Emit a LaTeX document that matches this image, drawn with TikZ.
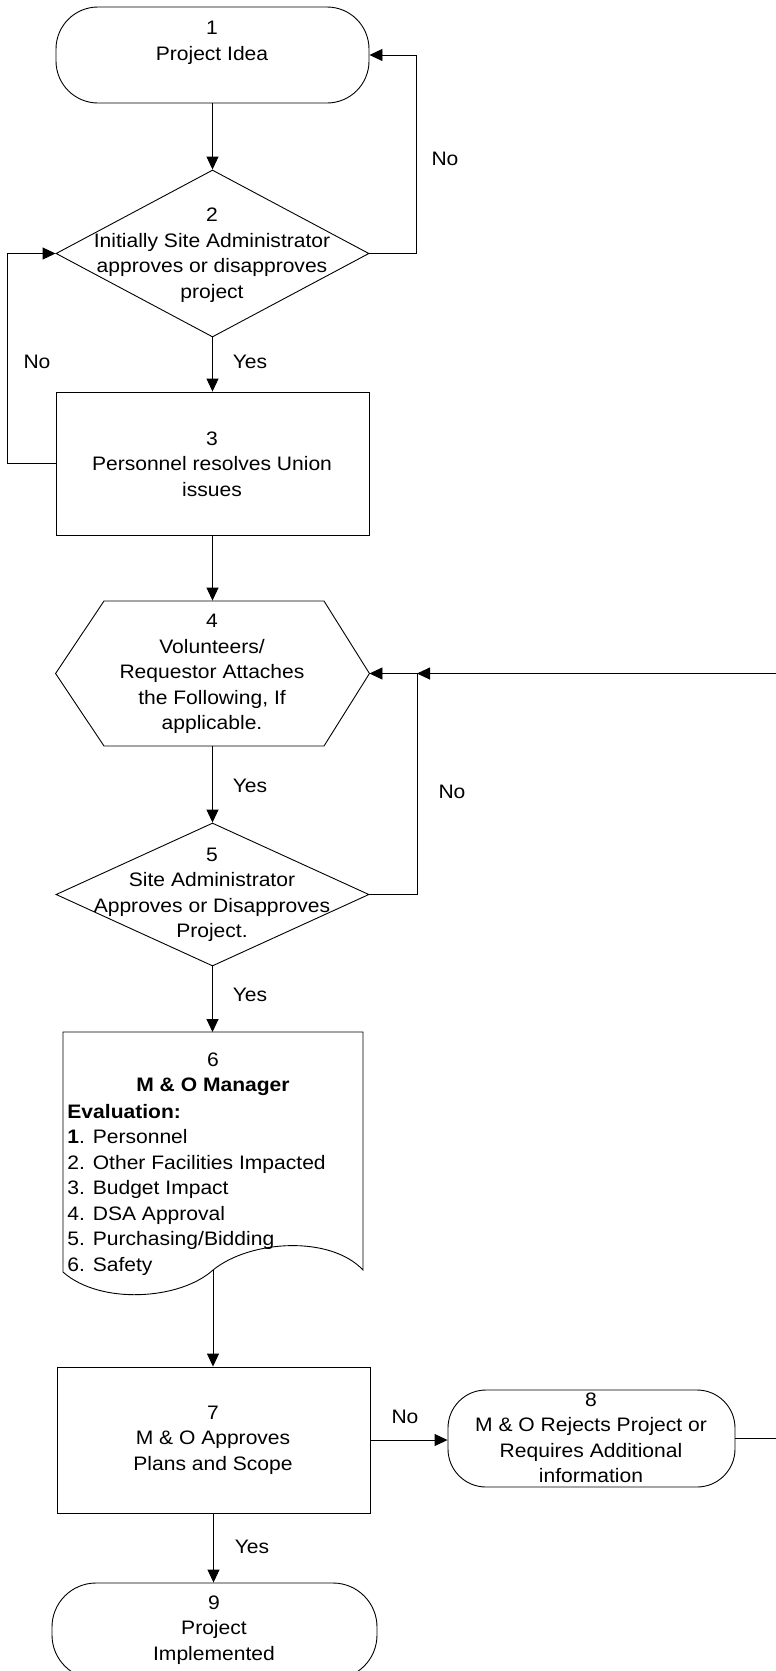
\documentclass[tikz,border=0pt]{standalone}
\usepackage{fontspec}
\setmainfont{Liberation Sans}[FakeStretch=1.08]
\usetikzlibrary{shapes.geometric,arrows.meta}
\begin{document}
\begin{tikzpicture}[x=1pt,y=-1pt,
  line width=0.9pt,
  >={Triangle[length=13pt,width=12pt]},
  txt/.style={font=\fontsize{19.5}{25.5}\selectfont,align=center,inner sep=0pt},
  shapebox/.style={draw,inner sep=0pt},
  ghost/.style={inner sep=0pt},
  lbl/.style={font=\fontsize{19.5}{25.5}\selectfont,inner sep=0pt}
]
\useasboundingbox (0,0) rectangle (776,1671);
\clip (0,0) rectangle (776,1671);

% shapes
\node[shapebox,rectangle,rounded corners=42pt,minimum width=313pt,minimum height=96pt] (n1) at (212.5,55) {};
\node[shapebox,diamond,aspect=1.87,minimum width=313pt,minimum height=167pt] (n2) at (212.5,253.5) {};
\node[shapebox,rectangle,minimum width=313pt,minimum height=143pt] (n3) at (212.5,463.5) {};
\node[ghost,rectangle,minimum width=313pt,minimum height=145pt] (n4) at (212.5,673.5) {};
\draw (n4.west) -- (104,601) -- (324,601) -- (n4.east) -- (324,746) -- (104,746) -- cycle;
\node[shapebox,diamond,aspect=2.19,minimum width=313pt,minimum height=143pt] (n5) at (212.5,894.5) {};
\node[ghost,rectangle,minimum width=300pt,minimum height=10pt,anchor=north] (n6) at (213,1032) {};
\draw (63,1032) -- (363,1032) -- (363,1270)
  .. controls (330,1235) and (250,1240) .. (213,1270)
  .. controls (180,1300) and (100,1305) .. (63,1272) -- cycle;
\coordinate (n6b) at (213,1270);
\node[shapebox,rectangle,minimum width=313pt,minimum height=146pt] (n7) at (213.5,1440) {};
\node[shapebox,rectangle,rounded corners=38pt,minimum width=287pt,minimum height=97pt] (n8) at (591.5,1438.5) {};
\node[shapebox,rectangle,rounded corners=44pt,minimum width=325pt,minimum height=96pt] (n9) at (214.5,1631) {};

% texts
\node[txt] (t1) at (212,43) {1\\Project Idea};
\node[txt] (t2) at (212,255) {2\\Initially Site Administrator\\approves or disapproves\\project};
\node[txt] (t3) at (212,464) {3\\Personnel resolves Union\\issues};
\node[txt] (t4) at (212,674) {4\\Volunteers/\\Requestor Attaches\\the Following, If\\applicable.};
\node[txt] (t5) at (212,895) {5\\Site Administrator\\Approves or Disapproves\\Project.};
\node[txt] (t6a) at (213,1074) {6\\\textbf{M \& O Manager}};
\node[txt,align=left,anchor=west] (t6b) at (67,1189.5) {\textbf{Evaluation:}\\\textbf{1}. Personnel\\2. Other Facilities Impacted\\3. Budget Impact\\4. DSA Approval\\5. Purchasing/Bidding\\6. Safety};
\node[txt] (t7) at (213,1440) {7\\M \& O Approves\\Plans and Scope};
\node[txt] (t8) at (591,1438) {8\\M \& O Rejects Project or\\Requires Additional\\information};
\node[txt] (t9) at (214,1630) {9\\Project\\Implemented};

% junction coordinates
\coordinate (r1) at (416,0);
\coordinate (l1) at (7,0);
\coordinate (j4) at (417,0);
\coordinate (far) at (790,0);

% connectors
\draw[->] (n1.south) -- (n2.north);
\draw[->] (n2.east) -- (n2.east -| r1) -- (n1.east -| r1) -- (n1.east);
\draw[->] (n2.south) -- (n3.north);
\draw[->] (n3.west) -- (n3.west -| l1) -- (n2.west -| l1) -- (n2.west);
\draw[->] (n3.south) -- (n4.north);
\draw[->] (n4.south) -- (n5.north);
\draw[->] (n5.east) -- (n5.east -| j4) -- (n4.east -| j4) -- (n4.east);
\draw[->] (n5.south) -- (n5.south |- n6.north);
\draw[->] (n6b) -- (n6b |- n7.north);
\draw[->] (n7.east) -- (n7.east -| n8.west);
\draw[->] (n7.south) -- (n7.south |- n9.north);
\draw[->] (n8.east) -- (n8.east -| far) -- (n4.east -| far) -- (n4.east -| j4);

% labels
\node[lbl] (lno1) at (445,159) {No};
\node[lbl] (lno2) at (37,362) {No};
\node[lbl] (lyes1) at (250,362) {Yes};
\node[lbl] (lyes2) at (250,786) {Yes};
\node[lbl] (lno3) at (452,792) {No};
\node[lbl] (lyes3) at (250,995) {Yes};
\node[lbl] (lno4) at (405,1417) {No};
\node[lbl] (lyes4) at (252,1547) {Yes};
\end{tikzpicture}
\end{document}
